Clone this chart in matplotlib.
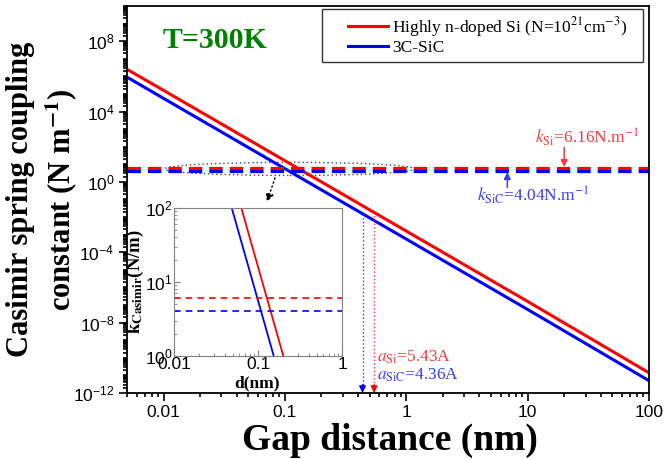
import numpy as np
import matplotlib
matplotlib.use("Agg")
import matplotlib.pyplot as plt
from matplotlib.ticker import LogLocator, FixedLocator, NullFormatter
from matplotlib.patches import Ellipse, FancyArrowPatch, Rectangle

plt.rcParams['font.family'] = 'serif'
plt.rcParams['font.serif'] = ['Liberation Serif', 'DejaVu Serif']
plt.rcParams['mathtext.fontset'] = 'stix'

# gap distance (nm) and Casimir spring constant (N/m)
gap = [0.005, 0.01, 0.1, 1, 10, 100]
k_si = [2.5e6, 1.6e5, 16, 1.6e-3, 1.6e-7, 1.4e-11]
k_sic = [9e5, 5.6e4, 5.6, 5.6e-4, 5.6e-8, 5e-12]

# mechanical spring constants (N/m) and lattice constants (nm)
k_mech = {"Si": 6.16, "SiC": 4.04}
lattice = {"Si": 0.543, "SiC": 0.436}

red = "#ff0000"
blue = "#0000ff"
red_txt = "#f03c3c"
blue_txt = "#3c3cf0"
sans = "Liberation Sans"
W, H = 666, 459


def k_at(d, k):
    return 10 ** np.interp(np.log10(d), np.log10(gap), np.log10(k))


fig = plt.figure(figsize=(6.66, 4.59), dpi=100)
ax = fig.add_axes([0.1907, 0.1438, 0.7838, 0.8432])
ax.set_xscale('log')
ax.set_yscale('log')
ax.set_xlim(0.005, 100)
ax.set_ylim(1e-12, 1e10)

l1, = ax.plot(gap, k_si, color=red, lw=2.2)
l2, = ax.plot(gap, k_sic, color=blue, lw=2.2)
ax.axhline(k_mech["Si"], color=red, lw=2.3, dashes=(4.2, 2.2))
ax.axhline(k_mech["SiC"], color=blue, lw=2.3, dashes=(4.2, 2.2))

# lattice constant markers
for key, kk, c in [("Si", k_si, red), ("SiC", k_sic, blue)]:
    d = lattice[key]
    ax.plot([d, d], [k_at(d, kk), 3e-12], color=c, lw=1, ls=':', alpha=0.8)
    ax.annotate('', xy=(d, 1e-12), xytext=(d, 3e-12),
                arrowprops=dict(arrowstyle='-|>', color=c, lw=1,
                                mutation_scale=10, shrinkA=0, shrinkB=0))

ax.text(0.57, 5.9e-11, r'$a_{\rm Si}$=5.43A', color=red_txt, fontsize=12.5,
        ha='left', va='baseline')
ax.text(0.57, 5.5e-12, r'$a_{\rm SiC}$=4.36A', color=blue_txt, fontsize=12.5,
        ha='left', va='baseline')

# spring constant labels
ax.annotate('', xy=(20, 7.0), xytext=(20, 90),
            arrowprops=dict(arrowstyle='-|>', color=red_txt, lw=1.1,
                            mutation_scale=10, shrinkA=0, shrinkB=0))
ax.text(11.6, 155, r'$k_{\rm Si}$=6.16N.m$^{-1}$', color=red_txt, fontsize=12.5,
        ha='left', va='baseline')
ax.annotate('', xy=(6.8, 3.6), xytext=(6.8, 0.48),
            arrowprops=dict(arrowstyle='-|>', color=blue_txt, lw=1.1,
                            mutation_scale=10, shrinkA=0, shrinkB=0))
ax.text(3.8, 0.076, r'$k_{\rm SiC}$=4.04N.m$^{-1}$', color=blue_txt, fontsize=12.5,
        ha='left', va='baseline')

# zoom ellipse and arrow to the inset
ax.add_patch(Ellipse((0.312, 0.579), 0.479, 0.034, transform=ax.transAxes,
                     fill=False, ec='#444444', lw=1, ls=(0, (1, 2))))
ax.add_patch(FancyArrowPatch((0.2835, 0.5556), (0.268, 0.4935), transform=ax.transAxes,
                             arrowstyle='-|>', mutation_scale=12, color='k', lw=1,
                             ls=(0, (1, 2)), shrinkA=0, shrinkB=0))

ax.text(0.169, 0.910, 'T=300K', transform=ax.transAxes, color='#008000',
        fontsize=21.5, fontweight='bold', ha='center', va='center')

# axes, ticks, labels
ax.xaxis.set_major_locator(FixedLocator([0.01, 0.1, 1, 10, 100]))
ax.xaxis.set_minor_locator(LogLocator(base=10, subs=np.arange(2, 10), numticks=50))
ax.xaxis.set_minor_formatter(NullFormatter())
ax.set_xticklabels(['0.01', '0.1', '1', '10', '100'])
ax.yaxis.set_major_locator(FixedLocator([1e-12, 1e-8, 1e-4, 1, 1e4, 1e8]))
ax.yaxis.set_minor_locator(LogLocator(base=10, subs=np.arange(1, 10), numticks=100))
ax.yaxis.set_minor_formatter(NullFormatter())
ax.tick_params(which='both', direction='out', top=False, right=False,
               labelsize=12.5, labelfontfamily=sans, width=1.2)
ax.tick_params(which='major', length=6, pad=3)
ax.tick_params(which='minor', length=3)
for s in ax.spines.values():
    s.set_linewidth(1.3)

ax.set_xlabel('Gap distance (nm)', fontsize=27, fontweight='bold')
ax.xaxis.set_label_coords(0.504, -0.078)
ax.set_ylabel('Casimir spring coupling\nconstant (N m$^{\\mathbf{-1}}$)', fontsize=22,
              fontweight='bold', linespacing=1.3)
ax.yaxis.set_label_coords(-0.091, 0.5)

# legend, with its frame drawn as a separate box beneath it
ax.legend([l1, l2], [r'Highly n-doped Si (N=10$^{21}$cm$^{-3}$)', '3C-SiC'],
          loc='upper left', bbox_to_anchor=(348 / W, 1 - 15 / H),
          bbox_transform=fig.transFigure, frameon=False,
          fontsize=12.5, handlelength=2.3, handletextpad=0.25, labelspacing=0.05,
          borderpad=0, borderaxespad=0)
ax.add_patch(Rectangle((322 / W, 1 - 62 / H), (643 - 322) / W, (62 - 9) / H,
                       transform=fig.transFigure, fill=True, fc='white',
                       ec='#333333', lw=1, zorder=4.5, clip_on=False))

# inset
ins = fig.add_axes([0.2613, 0.2244, 0.2523, 0.3224])
ins.set_xscale('log')
ins.set_yscale('log')
ins.set_xlim(0.01, 1)
ins.set_ylim(1, 100)
ins.plot(gap, k_si, color=red, lw=1.3)
ins.plot(gap, k_sic, color=blue, lw=1.3)
ins.axhline(k_mech["Si"], color=red, lw=1.2, dashes=(4, 3))
ins.axhline(k_mech["SiC"], color=blue, lw=1.2, dashes=(4, 3))
for s in ins.spines.values():
    s.set_color('#808080')
ins.xaxis.set_major_locator(FixedLocator([0.01, 0.1, 1]))
ins.set_xticklabels(['0.01', '0.1', '1'])
ins.xaxis.set_minor_formatter(NullFormatter())
ins.yaxis.set_minor_formatter(NullFormatter())
ins.tick_params(which='both', direction='in', top=False, right=False,
                labelsize=12.5, labelfontfamily=sans, color='#808080', pad=1)
ins.tick_params(which='major', length=4)
ins.tick_params(which='minor', length=2)
ins.set_xlabel('d(nm)', fontsize=12.5, fontweight='bold')
ins.xaxis.set_label_coords(0.494, -0.13)
ins.set_ylabel(r'$\mathbf{k}_{\mathbf{Casimir}}$(N/m)', fontsize=13.5, fontweight='bold')
ins.yaxis.set_label_coords(-0.165, 0.5)

fig.savefig('out.png', dpi=100)
